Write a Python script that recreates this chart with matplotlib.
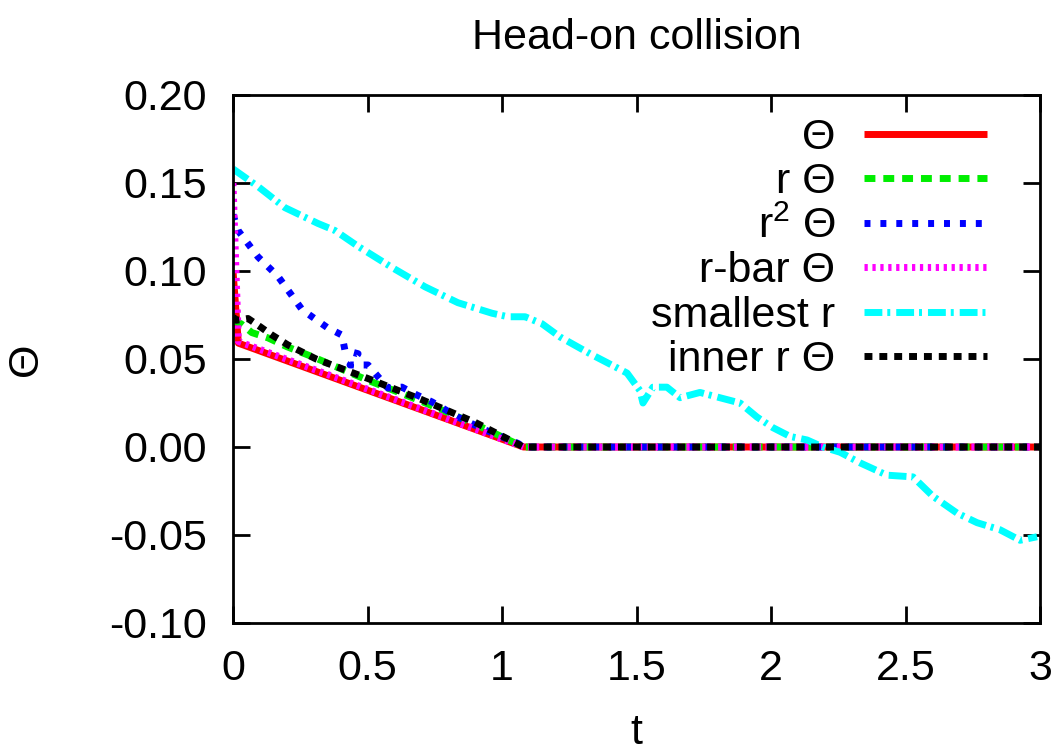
import matplotlib
matplotlib.use("Agg")
import matplotlib.pyplot as plt
from matplotlib.ticker import FormatStrFormatter, FuncFormatter

plt.rcParams['font.family'] = ['Liberation Sans', 'DejaVu Sans']
plt.rcParams['mathtext.fontset'] = 'custom'
plt.rcParams['mathtext.rm'] = 'Liberation Sans'
plt.rcParams['mathtext.it'] = 'Liberation Sans'
plt.rcParams['axes.unicode_minus'] = False

title = "Head-on collision"
xlabel = "t"
ylabel = "Θ"

labels = ["Θ", "r Θ", r"r$^\mathregular{2}$ Θ", "r-bar Θ", "smallest r", "inner r Θ"]
colors = ["#ff0000", "#00ee00", "#0000ff", "#ff00ff", "#00ffff", "#000000"]

t_theta = [0.0, 0.02, 1.08, 3.0]
v_theta = [0.100, 0.059, 0.0, 0.0]

t_rtheta = [0.0, 0.03, 0.07, 0.13, 0.20, 0.30, 0.50, 0.70, 0.90, 1.08, 3.0]
v_rtheta = [0.072, 0.070, 0.065, 0.062, 0.057, 0.051, 0.038, 0.026, 0.013, 0.0, 0.0]

t_r2theta = [0.0, 0.019, 0.093, 0.167, 0.257, 0.349, 0.405, 0.416, 0.465, 0.435,
             0.502, 0.539, 0.576, 0.628, 0.684, 0.740, 0.836, 0.937, 1.06, 1.08, 3.0]
v_r2theta = [0.132, 0.123, 0.108, 0.097, 0.078, 0.068, 0.0636, 0.055, 0.053, 0.0466,
             0.0466, 0.040, 0.0335, 0.034, 0.0295, 0.0256, 0.017, 0.0097, 0.002, 0.0, 0.0]

t_rbar = [0.0, 0.02, 1.08, 3.0]
v_rbar = [0.150, 0.060, 0.0, 0.0]

t_small = [0.0, 0.093, 0.193, 0.316, 0.379, 0.465, 0.591, 0.714, 0.836, 0.963,
           1.022, 1.086, 1.149, 1.216, 1.327, 1.390, 1.465, 1.513, 1.524, 1.561,
           1.613, 1.662, 1.736, 1.810, 1.885, 1.948, 2.007, 2.071, 2.134, 2.193,
           2.257, 2.331, 2.431, 2.528, 2.602, 2.691, 2.766, 2.851, 2.926, 2.989]
v_small = [0.158, 0.148, 0.136, 0.127, 0.123, 0.114, 0.102, 0.091, 0.082, 0.076,
           0.074, 0.074, 0.070, 0.0625, 0.053, 0.048, 0.042, 0.032, 0.025, 0.034,
           0.034, 0.028, 0.031, 0.028, 0.025, 0.017, 0.011, 0.006, 0.004, 0.0,
           -0.003, -0.009, -0.016, -0.017, -0.028, -0.0375, -0.043, -0.047, -0.053, -0.051]

t_inner = [0.0, 0.011, 0.056, 0.104, 0.141, 0.204, 0.309, 0.50, 0.70, 0.90, 1.08, 3.0]
v_inner = [0.074, 0.072, 0.073, 0.068, 0.064, 0.058, 0.050, 0.039, 0.027, 0.014, 0.0, 0.0]

series_t = [t_theta, t_rtheta, t_r2theta, t_rbar, t_small, t_inner]
series_v = [v_theta, v_rtheta, v_r2theta, v_rbar, v_small, v_inner]

xticks = [0, 0.5, 1, 1.5, 2, 2.5, 3]
yticks = [-0.10, -0.05, 0.00, 0.05, 0.10, 0.15, 0.20]

dash_styles = [
    None,
    (0, (1.57, 1.14)),
    (0, (0.86, 1.43)),
    (0, (0.47, 0.67)),
    (0, (2.57, 0.71, 0.43, 0.86)),
    (0, (1.14, 1.0)),
]

fig = plt.figure(figsize=(10.62, 7.51), dpi=100)
ax = fig.add_axes([233/1062, 1-623/751, (1040-233)/1062, (623-95)/751])

lw = 5.0
for tt, vv, lab, col, ds in zip(series_t, series_v, labels, colors, dash_styles):
    if ds is None:
        ax.plot(tt, vv, color=col, lw=lw, label=lab, solid_capstyle='butt')
    else:
        ax.plot(tt, vv, color=col, lw=lw, label=lab, linestyle=ds, dash_capstyle='butt')

ax.set_xlim(0, 3)
ax.set_ylim(-0.10, 0.20)
ax.set_xticks(xticks)
ax.set_yticks(yticks)
ax.xaxis.set_major_formatter(FuncFormatter(lambda v, p: "%g" % v))
ax.yaxis.set_major_formatter(FormatStrFormatter("%.2f"))

fs = 31
ax.tick_params(axis='both', which='major', direction='in', length=12, width=2,
               labelsize=fs, top=True, right=True, pad=19)
for s in ax.spines.values():
    s.set_linewidth(2)

ax.set_title(title, fontsize=fs, pad=33)
ax.set_xlabel(xlabel, fontsize=fs, labelpad=17)
ax.set_ylabel(ylabel, fontsize=fs)
ax.yaxis.set_label_coords(-0.232, 0.5)

leg = ax.legend(loc='upper right', bbox_to_anchor=((987-233)/807, (623-118)/528),
                frameon=False, markerfirst=False, fontsize=fs,
                handlelength=2.86, handletextpad=0.66, labelspacing=0.1,
                borderpad=0, borderaxespad=0)

fig.savefig("out.png", dpi=100)
